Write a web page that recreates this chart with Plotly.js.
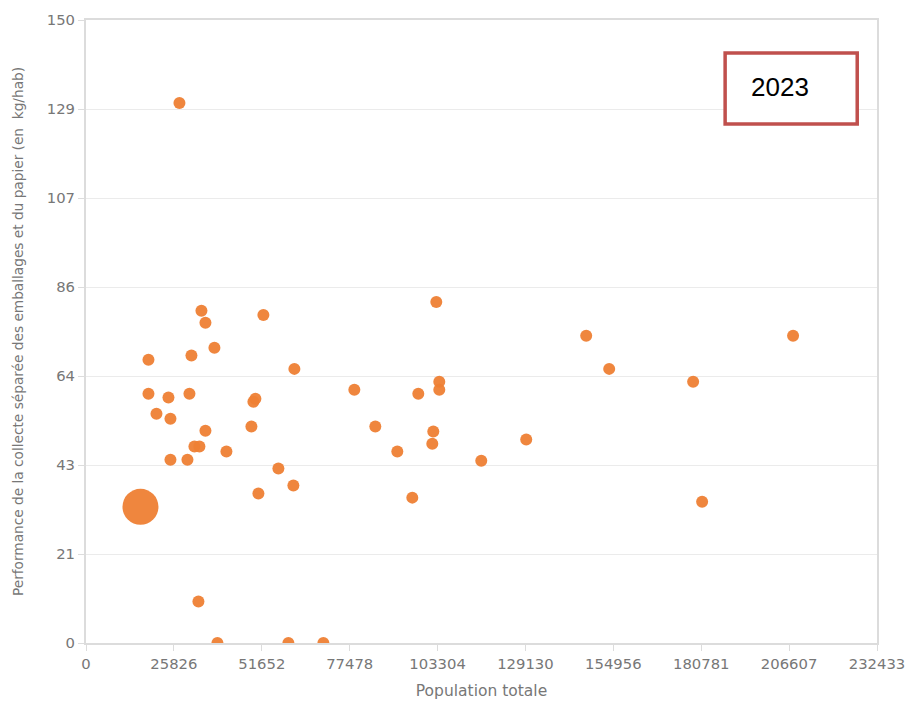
<!DOCTYPE html>
<html>
<head>
<meta charset="utf-8">
<script src="https://cdn.plot.ly/plotly-3.0.1.min.js"></script>
<style>html,body{margin:0;padding:0;background:#fff;}#chart{width:909px;height:702px;}</style>
</head>
<body>
<div id="chart"></div>
<script>
// Population totale (x) and performance in kg/hab (y) for each collectivity
const population = [27458, 18354, 18354, 20704, 24228, 24815, 24815, 30395, 30982, 29808,
  31863, 33331, 33919, 35094, 35094, 37737, 33038, 38618, 41261, 48602,
  49190, 49777, 52126, 50658, 56532, 59468, 61230, 60937, 69747, 78851,
  85017, 91478, 95883, 97645, 102931, 102050, 101756, 103812, 103812, 116146,
  129362, 146982, 153736, 178402, 181045, 207772];
const performance = [130.0, 68.2, 60.0, 55.2, 59.1, 54.0, 44.1, 60.0, 69.2, 44.1,
  47.3, 47.3, 80.0, 77.1, 51.1, 71.1, 10.0, 0, 46.1, 52.1,
  58.1, 58.8, 79.0, 36.0, 42.0, 0, 66.0, 37.9, 0, 61.0,
  52.1, 46.1, 35.0, 60.0, 82.1, 50.9, 48.0, 62.9, 61.0, 43.9,
  49.0, 74.0, 66.0, 62.9, 34.0, 74.0];
// Highlighted collectivity (large bubble)
const highlightPopulation = [16005];
const highlightPerformance = [32.8];

const xTickVals = [0, 25826, 51652, 77478, 103304, 129130, 154956, 180781, 206607, 232433];
const xTickText = ['0', '25826', '51652', '77478', '103304', '129130', '154956', '180781', '206607', '232433'];
const yTickVals = [0, 150/7, 300/7, 450/7, 600/7, 750/7, 900/7, 150];
const yTickText = ['0', '21', '43', '64', '86', '107', '129', '150'];
const yearLabel = '2023';

const orange = 'rgb(238,128,52)';
const tickFont = {family: 'DejaVu Sans, Verdana, sans-serif', size: 14.8, color: '#777'};

const traces = [
  {
    type: 'scatter', mode: 'markers',
    x: population, y: performance,
    marker: {size: 12, color: orange, opacity: 0.95},
    hoverinfo: 'x+y', showlegend: false
  },
  {
    type: 'scatter', mode: 'markers',
    x: highlightPopulation, y: highlightPerformance,
    marker: {size: 36, color: orange, opacity: 0.95},
    hoverinfo: 'x+y', showlegend: false
  }
];

const layout = {
  width: 909, height: 702,
  margin: {l: 85.5, r: 32, t: 20, b: 58.5},
  paper_bgcolor: '#fff', plot_bgcolor: '#fff',
  showlegend: false,
  xaxis: {
    range: [0, 232433], tickmode: 'array', tickvals: xTickVals, ticktext: xTickText,
    showgrid: false, zeroline: false,
    showline: true, linecolor: '#DCDCDC', linewidth: 2, mirror: true,
    ticks: 'outside', ticklen: 6, tickcolor: '#DCDCDC', tickwidth: 1,
    tickfont: tickFont,
    title: {text: 'Population totale', font: {family: 'DejaVu Sans, Verdana, sans-serif', size: 15.5, color: '#777'}, standoff: 14}
  },
  yaxis: {
    range: [0, 150], tickmode: 'array', tickvals: yTickVals, ticktext: yTickText,
    showgrid: true, gridcolor: '#EBEBEB', gridwidth: 1, zeroline: false,
    showline: true, linecolor: '#DCDCDC', linewidth: 2, mirror: true,
    ticks: 'outside', ticklen: 6, tickcolor: '#DCDCDC', tickwidth: 1,
    tickfont: tickFont,
    title: {text: 'Performance de la collecte séparée des emballages et du papier (en  kg/hab)', font: {family: 'DejaVu Sans, Verdana, sans-serif', size: 13.7, color: '#777'}, standoff: 20}
  },
  shapes: [
    {type: 'rect', xref: 'paper', yref: 'paper', x0: 0.808, x1: 0.975, y0: 0.833, y1: 0.947,
     line: {color: '#C0504D', width: 3.5}, fillcolor: '#fff'}
  ],
  annotations: [
    {xref: 'paper', yref: 'paper', x: 0.838, y: 0.892, xanchor: 'left', yanchor: 'middle',
     text: yearLabel, showarrow: false, font: {family: 'Liberation Sans, Arial, sans-serif', size: 26, color: '#000'}}
  ]
};

Plotly.newPlot('chart', traces, layout, {displayModeBar: false, staticPlot: true});
</script>
</body>
</html>
